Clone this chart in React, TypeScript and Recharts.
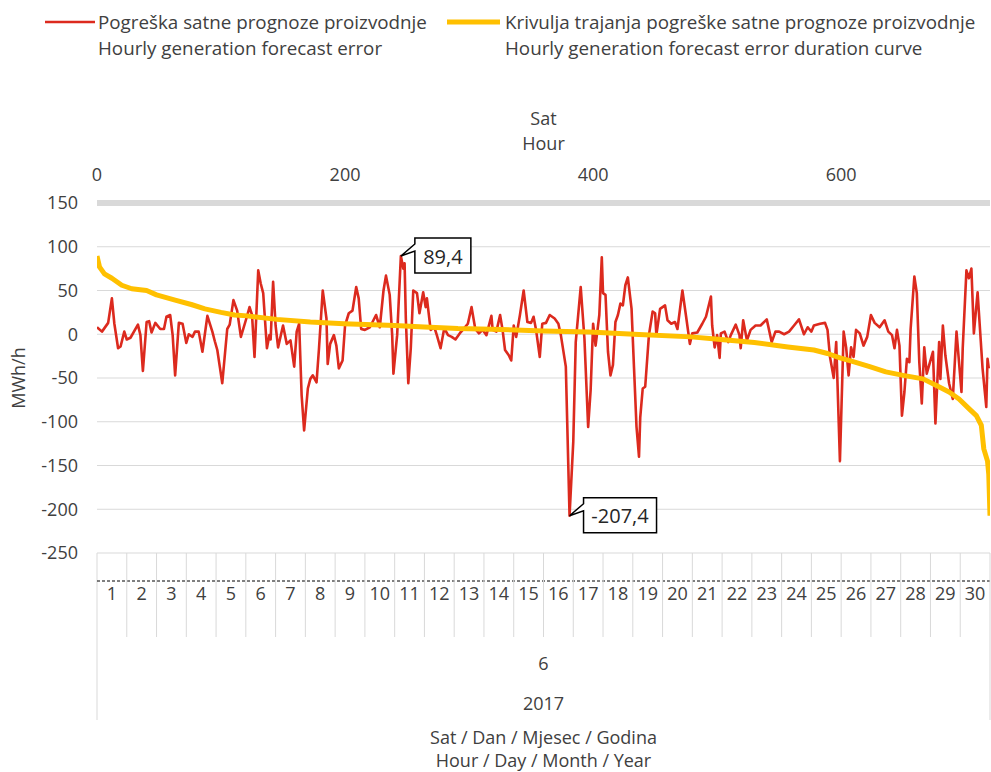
import React from "react";
import { ComposedChart, Line, XAxis, YAxis, CartesianGrid } from "recharts";

// hourly forecast error, June 2017 (hour index within the month, MWh/h)
const errorHours = [
  0, 4, 9, 12, 14, 17, 19, 22, 24, 27, 33, 35, 37, 40, 42, 44, 47, 51, 54, 56,
  59, 61, 63, 66, 69, 72, 74, 77, 79, 82, 85, 89, 93, 95, 97, 99, 101, 105, 107, 110,
  113, 116,
  120, 123, 125, 127, 130, 132, 134, 137, 139, 140, 142, 144, 146, 150, 153, 156, 159, 161, 163, 165,
  167, 170, 172, 174, 177, 179, 182, 185, 186, 188, 191, 193, 195, 198, 200, 203, 206, 209, 211, 213,
  216, 220, 225, 228, 231, 233, 236, 238, 239,
  242, 245, 247, 248, 249, 251, 253, 255, 258, 260, 263, 265, 266, 269, 272, 274, 277, 280, 283, 286,
  289, 293, 295, 299, 302, 305, 308, 311, 314, 318, 319, 322, 325, 327, 329, 332, 334, 336, 338, 341,
  344, 347, 350, 352, 354, 357,
  359, 362, 365, 369, 372, 374, 378, 381, 384, 386, 390, 393, 396, 398, 400, 402, 405, 407, 408, 410,
  412, 414, 416, 418, 420, 422, 424, 426, 428, 431, 433, 435, 437, 438, 440, 442, 445, 448, 450, 451,
  454, 458, 460, 463, 466, 468, 472, 475,
  478, 480, 484, 488, 491, 495, 496, 498, 500, 502, 503, 506, 509, 511, 515, 518, 519, 521, 524, 527,
  531, 535, 540, 544, 547, 550, 554, 558, 562, 566, 570, 573, 576, 578, 583, 587, 589, 591, 594, 596,
  599, 602, 604, 606, 608, 610, 612, 615, 618, 621, 624, 627, 631, 635, 638, 641, 643, 645, 647, 649,
  651, 653, 655, 656, 659, 661, 663, 665, 667, 669, 671, 674, 676, 679, 680, 682, 684, 687, 690, 693,
  697, 698, 701, 703, 705, 707, 710, 714, 717, 718, 719,
];
const errorValues = [
  8, 3, 13, 41, 12, -16, -14, 3, -6, -4, 11, -1, -42, 14, 15, 2, 13, 6, 6, 20,
  22, -1, -47, 13, 12, -10, 0, -3, 3, 3, -20, 21, 3, -8, -18, -37, -56, 6, 11, 39,
  27, -3,
  16, 31, 22, -26, 73, 58, 47, -16, -1, -6, 60, 10, -15, 10, -11, -7, -37, 3, 12, -70,
  -110, -62, -51, -47, -55, -16, 50, 18, -34, -11, -1, -13, -39, -30, 10, 24, 27, 54, 41, 6,
  5, 8, 22, 8, 50, 67, 45, -1, -45,
  -1, 89.4, 75, 81, 18, -56, -16, 50, 47, 24, 48, 31, 41, 5, 8, -1, -16, 7, -1, -3,
  -6, 2, 5, 12, 31, 6, 1, 5, -1, 21, 5, 3, 22, 5, -18, -24, -30, 10, -3, 22,
  50, 14, 13, 20, 5, -26,
  12, 13, 22, 18, 12, -1, -37, -207.4, -123, -9, 54, -5, -106, -64, 12, -13, 22, 88, 47, 45,
  -20, -47, -35, 14, 22, 35, 33, 56, 65, 29, -39, -106, -140, -95, -62, -60, -1, 26, 24, -1,
  29, 33, 16, 12, 14, 6, 50, 20,
  -11, 1, 2, 12, 20, 43, 10, -15, -1, -27, 1, 3, -9, -1, 11, -1, -16, 16, -7, 5,
  10, 10, 17, -9, 3, 3, 0, 3, 10, 17, 0, 8, 3, 10, 12, 13, 5, -26, -50, -9,
  -145, 3, -15, -47, -15, -26, 5, 1, -13, -3, 22, 13, 8, 16, 3, -1, -16, 5, -13, -93,
  -66, -28, -32, 6, 66, 47, -32, -79, -15, -45, -35, -20, -102, -9, -51, 10, -24, -56, -74, 3,
  -66, -16, 73, 64, 75, 1, 48, -39, -83, -28, -39,
];

// duration curve (same errors sorted, rank on the top axis)
const durationRanks = [
  0, 2, 6, 12, 20, 28, 40, 48, 63, 76, 87, 100, 111, 121, 145, 172, 199, 240, 264, 291,
  318, 360, 397, 437, 479, 503, 530, 557, 578, 589, 599, 609, 623, 636, 650, 666, 676, 687, 695, 703,
  709, 713, 715, 718, 719, 720,
];
const durationValues = [
  89.4, 77, 69, 64, 56, 52, 50, 45, 39, 34, 29, 25, 22, 21, 17, 14, 12, 10, 8.4, 6.5,
  5.7, 3.8, 2.7, -0.4, -3, -6, -9.5, -14.5, -18, -22, -27, -31, -37, -43, -47, -51, -58, -66, -74, -85,
  -93, -104, -131, -145, -160, -207.4,
];

const dayLabels = [
  "1", "2", "3", "4", "5", "6", "7", "8", "9", "10", "11", "12", "13", "14", "15",
  "16", "17", "18", "19", "20", "21", "22", "23", "24", "25", "26", "27", "28", "29", "30",
];
const monthLabels = ["6"];
const yearLabels = ["2017"];
const yTicks = [-250, -200, -150, -100, -50, 0, 50, 100, 150];
const hourTicks = [0, 200, 400, 600];

const RED = "#dc2a1e";
const GOLD = "#ffc000";
const GRID = "#d9d9d9";
const TXT = "#404040";
const FONT = "'Open Sans', 'Noto Sans', sans-serif";
const FS = 18;
const LEGEND_FS = 18.8;

const W = 991;
const H = 772;
const PLOT_LEFT = 97;
const PLOT_W = W - PLOT_LEFT - 1;
const HOURS = 720;
const HALF_DAY = PLOT_W / dayLabels.length / 2;

const errorData = errorHours.map((h, i) => ({ h, v: errorValues[i] }));
const durationData = durationRanks.map((r, i) => ({ r, v: durationValues[i] }));
const dayTicks = dayLabels.map((_, i) => i * 24 + 12);
const maxErr = Math.max(...errorValues);
const minErr = Math.min(...errorValues);

function renderCallout(p: any) {
  const { x, y, value } = p;
  if (value !== maxErr && value !== minErr) return null;
  const text = String(value).replace(".", ",");
  const w = 22 + text.length * 8.5;
  const bx = x + 14;
  const top = y - 18;
  const d = `M${bx},${y - 12} L${bx},${top} L${bx + w},${top} L${bx + w},${top + 35} L${bx},${top + 35} L${bx},${y - 5} L${x},${y} Z`;
  return (
    <g key={`c${p.index}`}>
      <path d={d} fill="#fff" stroke="#000" strokeWidth={1.5} />
      <text x={bx + w / 2} y={y} textAnchor="middle" dominantBaseline="central" fontSize={20} fill="#262626" fontFamily={FONT}>
        {text}
      </text>
    </g>
  );
}

function DayTick(p: any) {
  const { x, y, index } = p;
  const last = index === dayLabels.length - 1;
  return (
    <g>
      <line x1={x - HALF_DAY} x2={x - HALF_DAY} y1={y} y2={y + (index === 0 ? 167 : 84)} stroke={GRID} />
      {last && <line x1={x + HALF_DAY} x2={x + HALF_DAY} y1={y} y2={y + 167} stroke={GRID} />}
      {index === 0 && (
        <line x1={x - HALF_DAY} x2={x - HALF_DAY + PLOT_W} y1={y + 28} y2={y + 28} stroke="#000" strokeDasharray="3 2" />
      )}
      <text x={x} y={y + 40} textAnchor="middle" dominantBaseline="central" fontSize={FS} fill={TXT}>
        {dayLabels[index]}
      </text>
    </g>
  );
}

const LevelTick = (labels: string[]) => (p: any) => (
  <text x={p.x} y={p.y + 26} textAnchor="middle" dominantBaseline="central" fontSize={FS} fill={TXT}>
    {labels[p.index]}
  </text>
);

export default function App() {
  return (
    <div style={{ position: "absolute", left: 0, top: 0, width: W, height: H, fontFamily: FONT, color: TXT, background: "#fff" }}>
      {/* legend */}
      <svg width={W} height={64} style={{ position: "absolute", left: 0, top: 0 }}>
        <line x1={45} x2={95} y1={22} y2={22} stroke={RED} strokeWidth={2.5} />
        <line x1={447} x2={500} y1={22} y2={22} stroke={GOLD} strokeWidth={5} />
        <text x={98} y={22} dominantBaseline="central" fontSize={LEGEND_FS} fill={TXT}>Pogreška satne prognoze proizvodnje</text>
        <text x={98} y={48} dominantBaseline="central" fontSize={LEGEND_FS} fill={TXT}>Hourly generation forecast error</text>
        <text x={505} y={22} dominantBaseline="central" fontSize={LEGEND_FS} fill={TXT}>Krivulja trajanja pogreške satne prognoze proizvodnje</text>
        <text x={505} y={48} dominantBaseline="central" fontSize={LEGEND_FS} fill={TXT}>Hourly generation forecast error duration curve</text>
      </svg>
      <ComposedChart width={W} height={H} margin={{ top: 100, right: 1, bottom: 52, left: 0 }} style={{ position: "absolute", left: 0, top: 0 }}>
        <CartesianGrid xAxisId="day" vertical={false} stroke={GRID} />
        <YAxis
          type="number"
          domain={[-250, 150]}
          ticks={yTicks}
          interval={0}
          width={PLOT_LEFT}
          axisLine={false}
          tickLine={false}
          tickSize={0}
          tickMargin={19}
          tick={{ fontSize: FS, fill: TXT }}
          label={{
            content: (lp: any) => (
              <text x={18} y={lp.viewBox.y + lp.viewBox.height / 2} transform={`rotate(-90 18 ${lp.viewBox.y + lp.viewBox.height / 2})`} textAnchor="middle" dominantBaseline="central" fontSize={FS} fill={TXT}>
                MWh/h
              </text>
            ),
          }}
        />
        <XAxis
          xAxisId="rank"
          orientation="top"
          type="number"
          dataKey="r"
          domain={[0, HOURS]}
          allowDataOverflow
          ticks={hourTicks}
          interval={0}
          height={103}
          axisLine={{ stroke: GRID, strokeWidth: 6 }}
          tickLine={false}
          tickSize={0}
          tickMargin={22}
          tick={{ fontSize: FS, fill: TXT }}
          label={{
            content: (lp: any) => {
              const cx = lp.viewBox.x + lp.viewBox.width / 2;
              return (
                <g>
                  <text x={cx} y={lp.viewBox.y + 18} textAnchor="middle" dominantBaseline="central" fontSize={FS} fill={TXT}>Sat</text>
                  <text x={cx} y={lp.viewBox.y + 43} textAnchor="middle" dominantBaseline="central" fontSize={FS} fill={TXT}>Hour</text>
                </g>
              );
            },
          }}
        />
        <XAxis
          xAxisId="day"
          type="number"
          dataKey="h"
          domain={[0, HOURS]}
          allowDataOverflow
          ticks={dayTicks}
          interval={0}
          height={84}
          axisLine={false}
          tickLine={false}
          tickSize={0}
          tickMargin={0}
          tick={(p: any) => <DayTick {...p} />}
        />
        <XAxis
          xAxisId="month"
          type="number"
          dataKey="h"
          domain={[0, HOURS]}
          allowDataOverflow
          ticks={[HOURS / 2]}
          interval={0}
          height={40}
          axisLine={false}
          tickLine={false}
          tickSize={0}
          tickMargin={0}
          tick={LevelTick(monthLabels)}
        />
        <XAxis
          xAxisId="year"
          type="number"
          dataKey="h"
          domain={[0, HOURS]}
          allowDataOverflow
          ticks={[HOURS / 2]}
          interval={0}
          height={43}
          axisLine={false}
          tickLine={false}
          tickSize={0}
          tickMargin={0}
          tick={LevelTick(yearLabels)}
          label={{
            content: (lp: any) => {
              const cx = lp.viewBox.x + lp.viewBox.width / 2;
              const by = lp.viewBox.y + lp.viewBox.height;
              return (
                <g>
                  <text x={cx} y={by + 17} textAnchor="middle" dominantBaseline="central" fontSize={FS} fill={TXT}>Sat / Dan / Mjesec / Godina</text>
                  <text x={cx} y={by + 40} textAnchor="middle" dominantBaseline="central" fontSize={FS} fill={TXT}>Hour / Day / Month / Year</text>
                </g>
              );
            },
          }}
        />
        <Line
          xAxisId="day"
          data={errorData}
          dataKey="v"
          type="linear"
          stroke={RED}
          strokeWidth={2.6}
          strokeLinejoin="round"
          dot={false}
          activeDot={false}
          isAnimationActive={false}
          label={renderCallout}
        />
        <Line
          xAxisId="rank"
          data={durationData}
          dataKey="v"
          type="linear"
          stroke={GOLD}
          strokeWidth={5}
          strokeLinejoin="round"
          dot={false}
          activeDot={false}
          isAnimationActive={false}
        />
      </ComposedChart>
    </div>
  );
}
